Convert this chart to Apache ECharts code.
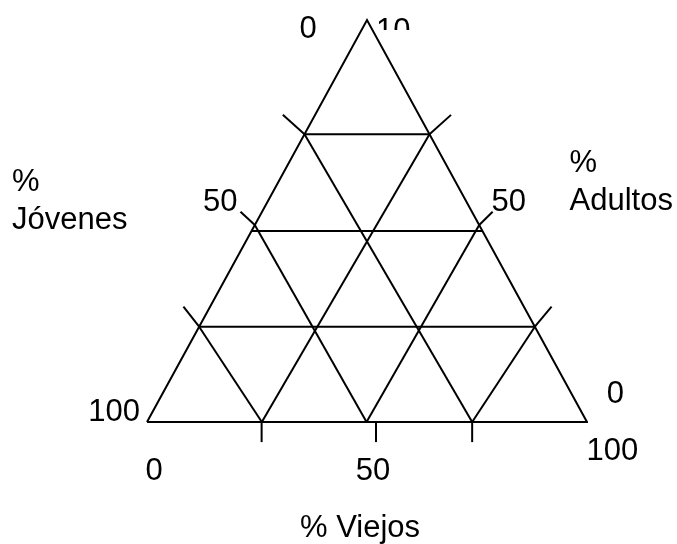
<!DOCTYPE html>
<html><head><meta charset="utf-8">
<script src="https://cdn.jsdelivr.net/npm/echarts@6/dist/echarts.min.js"></script>
<style>html,body{margin:0;padding:0;background:#fff}#c{width:677px;height:544px}</style>
</head><body><div id="c"></div>
<script>
// ---- values (percent) ----
// points where the oblique grid lines meet each side
const jovenesSide = [76.3, 51, 28.4];     // left side, % Jóvenes
const adultosSide = [23.7, 49, 71.6];     // right side, % Adultos
const viejosBase  = [26.1, 49.9, 73.9];   // base, % Viejos
// horizontal grid lines (% Adultos)
const adultosLevels = [23.7, 47.5, 71.6];
// ticks below the base (% Viejos)
const viejosTicks = [26.05, 52.05, 73.9];
// tick labels
const jovenesTickLabels = ['0', '50', '100'];
const adultosTickLabels = ['100', '50', '0'];
const viejosTickLabels  = ['0', '50', '100'];
const axisTitles = ['% Jóvenes', '% Adultos', '% Viejos'];

// ternary (Jóvenes, Viejos, Adultos) -> cartesian data units
function toXY(j, v, a) { return [v + a / 2, a]; }

const FONT = "'Liberation Sans', Arial, sans-serif";
const FS = 31;
// tick extents (style, in data units), one per tick
const LEFT_TICK = [[-3.57, 4.98], [-3.25, 3.3], [-4.93, 4.8]];
const RIGHT_TICK = [[3.8, 4.98], [3.05, 3.3], [4.9, 4.8]];
const BASE_TICK = 5;

const segs = [];
// outer triangle
segs.push([toXY(100, 0, 0), toXY(0, 100, 0), toXY(0, 0, 100), toXY(100, 0, 0)]);
// horizontal lines
adultosLevels.forEach(a => segs.push([toXY(100 - a, 0, a), toXY(0, 100 - a, a)]));
// lines from left side to base
jovenesSide.forEach((j, i) => segs.push([toXY(j, 0, 100 - j), toXY(100 - viejosBase[i], viejosBase[i], 0)]));
// lines from base to right side
viejosBase.forEach((v, i) => {
  const a = adultosSide[adultosSide.length - 1 - i];
  segs.push([toXY(100 - v, v, 0), toXY(0, 100 - a, a)]);
});
// left side ticks
jovenesSide.forEach((j, i) => {
  const p = toXY(j, 0, 100 - j);
  segs.push([p, [p[0] + LEFT_TICK[i][0], p[1] + LEFT_TICK[i][1]]]);
});
// right side ticks
adultosSide.forEach((a, i) => {
  const p = toXY(0, 100 - a, a);
  segs.push([p, [p[0] + RIGHT_TICK[i][0], p[1] + RIGHT_TICK[i][1]]]);
});
// base ticks
viejosTicks.forEach(v => {
  const p = toXY(100 - v, v, 0);
  segs.push([p, [p[0], p[1] - BASE_TICK]]);
});

const series = segs.map(d => ({
  type: 'line', data: d, symbol: 'none', silent: true, clip: false, z: 10,
  animation: false,
  lineStyle: { color: '#000', width: 2, join: 'miter', cap: 'butt' }
}));

function txt(text, x, baseline, extra) {
  return Object.assign({
    type: 'text', x: x, y: baseline - 10.7, z: 0,
    style: { text: text, font: FS + 'px ' + FONT, fill: '#000', verticalAlign: 'middle', align: 'left' }
  }, extra || {});
}

const graphics = [
  txt(jovenesTickLabels[0], 299.5, 40),
  txt(jovenesTickLabels[1], 203, 212.7),
  txt(jovenesTickLabels[2], 88.3, 423.3),
  txt(adultosTickLabels[0], 376, 42.5),
  txt(adultosTickLabels[1], 491.5, 212.7),
  txt(adultosTickLabels[2], 606.7, 405),
  txt(viejosTickLabels[0], 145.4, 481.7),
  txt(viejosTickLabels[1], 355.7, 481.7),
  txt(viejosTickLabels[2], 586.6, 461.7),
  { type: 'text', x: 12, y: 201.3, z: 0,
    style: { text: axisTitles[0].replace(' ', '\n'), font: FS + 'px ' + FONT, fill: '#000', lineHeight: 38, verticalAlign: 'middle' } },
  { type: 'text', x: 569.5, y: 182.3, z: 0,
    style: { text: axisTitles[1].replace(' ', '\n'), font: FS + 'px ' + FONT, fill: '#000', lineHeight: 38, verticalAlign: 'middle' } },
  txt(axisTitles[2], 300, 539),
  // clipping of the top "100" label
  { type: 'rect', z: 1, shape: { x: 374, y: 30, width: 70, height: 22 }, style: { fill: '#fff' } },
  { type: 'rect', z: 1, shape: { x: 410.5, y: 0, width: 34, height: 52 }, style: { fill: '#fff' } }
];

const chart = echarts.init(document.getElementById('c'), null, { renderer: 'canvas' });
chart.setOption({
  animation: false,
  backgroundColor: '#fff',
  grid: { left: 147, right: 90, top: 20, bottom: 544 - 462.2 },
  xAxis: { type: 'value', min: 0, max: 100, show: false },
  yAxis: { type: 'value', min: -10, max: 100, show: false },
  series: series,
  graphic: { elements: graphics }
});
</script></body></html>
